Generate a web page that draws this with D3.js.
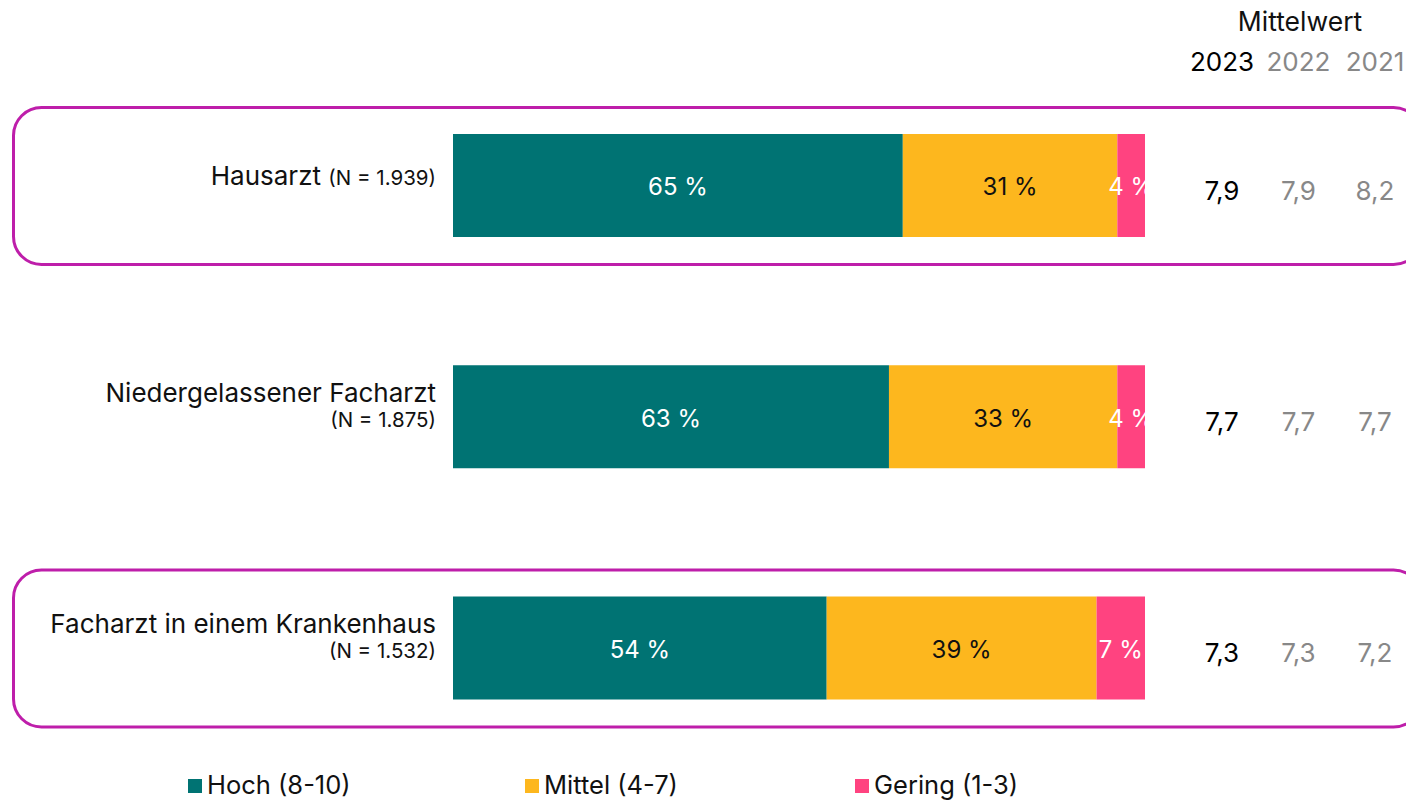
<!DOCTYPE html>
<html>
<head>
<meta charset="utf-8">
<script src="https://cdn.jsdelivr.net/npm/d3@7"></script>
<style>
  body { margin: 0; background: #fff; }
  svg { display: block; font-family: Inter, 'Noto Sans', sans-serif; }
</style>
</head>
<body>
<div id="chart"></div>
<script>
// data
const categories = ['Hausarzt', 'Niedergelassener Facharzt', 'Facharzt in einem Krankenhaus'];
const sampleSizes = ['(N = 1.939)', '(N = 1.875)', '(N = 1.532)'];
const highlighted = [true, false, true];
const seriesNames = ['Hoch (8-10)', 'Mittel (4-7)', 'Gering (1-3)'];
const hoch = [65, 63, 54];
const mittel = [31, 33, 39];
const gering = [4, 4, 7];
const years = ['2023', '2022', '2021'];
const mean2023 = ['7,9', '7,7', '7,3'];
const mean2022 = ['7,9', '7,7', '7,3'];
const mean2021 = ['8,2', '7,7', '7,2'];

const colors = ['#007373', '#FDB71E', '#FF4380'];
const textColors = ['#fff', '#111', '#fff'];
const border = '#BE1EAA';

const width = 1406, height = 800;

const svg = d3.select('#chart').append('svg')
    .attr('width', width)
    .attr('height', height);

// scales
const x = d3.scaleLinear().domain([0, 100]).range([453, 1145]);
const y = d3.scalePoint().domain(categories).range([185.5, 648]);
const barH = 103;
const yearX = d3.scalePoint().domain(years).range([1222, 1375]);

// highlight boxes
svg.append('g')
    .selectAll('rect')
    .data(categories.filter((d, i) => highlighted[i]))
    .join('rect')
    .attr('x', 13.5)
    .attr('y', (d) => y(d) - 78)
    .attr('width', 1408)
    .attr('height', 157)
    .attr('rx', 28)
    .attr('fill', 'none')
    .attr('stroke', border)
    .attr('stroke-width', 3);

// stack
const rows = categories.map((c, i) => ({ cat: c, Hoch: hoch[i], Mittel: mittel[i], Gering: gering[i] }));
const stack = d3.stack().keys(['Hoch', 'Mittel', 'Gering'])(rows);

svg.append('defs').append('clipPath')
    .attr('id', 'barclip')
    .append('rect')
    .attr('x', x(0)).attr('y', 0)
    .attr('width', x(100) - x(0)).attr('height', height);

const barG = svg.append('g').attr('clip-path', 'url(#barclip)');

const layers = barG.selectAll('g.layer')
    .data(stack)
    .join('g')
    .attr('class', 'layer');

layers.selectAll('rect')
    .data((d) => d)
    .join('rect')
    .attr('x', (d) => x(d[0]))
    .attr('y', (d) => y(d.data.cat) - barH / 2)
    .attr('width', (d) => x(d[1]) - x(d[0]))
    .attr('height', barH)
    .attr('fill', function () { return colors[d3.select(this.parentNode).datum().index]; });

layers.each(function (layer) {
    d3.select(this).selectAll('text')
        .data(layer)
        .join('text')
        .attr('x', (d) => (x(d[0]) + x(d[1])) / 2)
        .attr('y', (d) => y(d.data.cat) + 1.5)
        .attr('dy', '0.35em')
        .attr('text-anchor', 'middle')
        .attr('font-size', 24)
        .attr('fill', textColors[layer.index])
        .text((d) => (d[1] - d[0]) + ' %');
});

// category labels
const labelX = 436;
categories.forEach((c, i) => {
    if (i === 0) {
        const t = svg.append('text')
            .attr('x', labelX)
            .attr('y', y(c) - 6)
            .attr('dy', '0.35em')
            .attr('text-anchor', 'end')
            .attr('fill', '#111');
        t.append('tspan').attr('font-size', 26).text(c + ' ');
        t.append('tspan').attr('font-size', 20.5).text(sampleSizes[i]);
    } else {
        svg.append('text')
            .attr('x', labelX)
            .attr('y', y(c) - 24)
            .attr('dy', '0.35em')
            .attr('text-anchor', 'end')
            .attr('font-size', 26)
            .attr('fill', '#111')
            .text(c);
        svg.append('text')
            .attr('x', labelX)
            .attr('y', y(c) + 3)
            .attr('dy', '0.35em')
            .attr('text-anchor', 'end')
            .attr('font-size', 20.5)
            .attr('fill', '#111')
            .text(sampleSizes[i]);
    }
});

// mean columns
svg.append('text')
    .attr('x', 1300)
    .attr('y', 22)
    .attr('dy', '0.35em')
    .attr('text-anchor', 'middle')
    .attr('font-size', 26.5)
    .attr('fill', '#111')
    .text('Mittelwert');

const yearColor = (yr) => (yr === '2023' ? '#000' : '#888');

svg.append('g')
    .selectAll('text')
    .data(years)
    .join('text')
    .attr('x', (d) => yearX(d))
    .attr('y', 62)
    .attr('dy', '0.35em')
    .attr('text-anchor', 'middle')
    .attr('font-size', 26)
    .attr('fill', yearColor)
    .text((d) => d);

const means = { '2023': mean2023, '2022': mean2022, '2021': mean2021 };
years.forEach((yr) => {
    svg.append('g')
        .selectAll('text')
        .data(categories)
        .join('text')
        .attr('x', yearX(yr))
        .attr('y', (d) => y(d) + 5)
        .attr('dy', '0.35em')
        .attr('text-anchor', 'middle')
        .attr('font-size', 26)
        .attr('fill', yearColor(yr))
        .text((d, i) => means[yr][i]);
});

// legend
const legendOffsets = [188, 525, 855];
const legend = svg.append('g')
    .selectAll('g')
    .data(seriesNames)
    .join('g')
    .attr('transform', (d, i) => `translate(${legendOffsets[i]},785)`);

legend.append('rect')
    .attr('x', 0).attr('y', -6)
    .attr('width', 14).attr('height', 14)
    .attr('fill', (d, i) => colors[i]);

legend.append('text')
    .attr('x', 19)
    .attr('dy', '0.35em')
    .attr('font-size', 25.5)
    .attr('fill', '#111')
    .text((d) => d);
</script>
</body>
</html>
